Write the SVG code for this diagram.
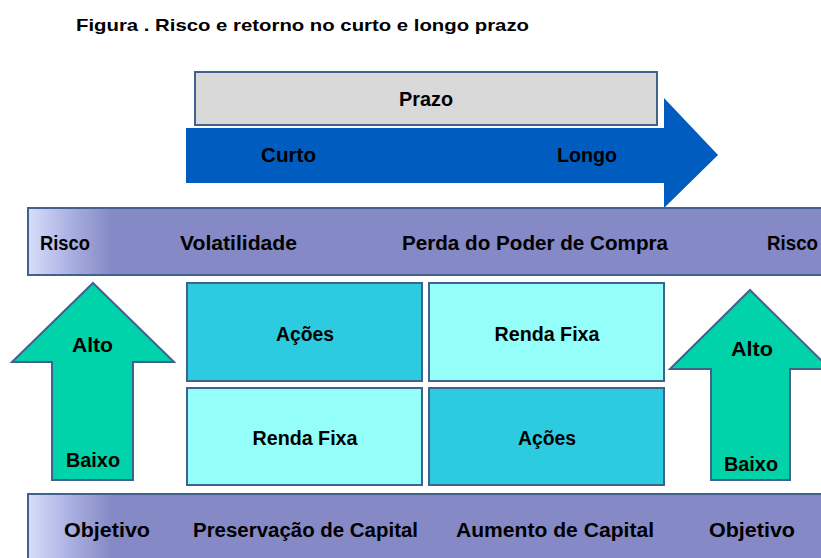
<svg xmlns="http://www.w3.org/2000/svg" width="821" height="558" viewBox="0 0 821 558">
<defs>
<linearGradient id="barGrad" x1="28" y1="0" x2="112" y2="0" gradientUnits="userSpaceOnUse">
<stop offset="0" stop-color="#d6defb"/>
<stop offset="0.55" stop-color="#a7acde"/>
<stop offset="1" stop-color="#8589c5"/>
</linearGradient>
<style>
text{font-family:"Liberation Sans",Arial,sans-serif;font-weight:bold;font-size:20px;fill:#000}
.title{font-size:17px}
.shape{stroke:#41618f;stroke-width:2}
.bar{fill:url(#barGrad)}
.dark{fill:#2ccbe0}
.light{fill:#93fff8}
.green{fill:#00d3a9}
</style>
</defs>
<rect width="821" height="558" fill="#ffffff"/>
<text class="title" x="76" y="31" textLength="453" lengthAdjust="spacingAndGlyphs">Figura . Risco e retorno no curto e longo prazo</text>

<g id="prazo">
<rect class="shape" x="195" y="72" width="462" height="53" fill="#d9d9d9"/>
<text x="426" y="106" text-anchor="middle" textLength="54" lengthAdjust="spacingAndGlyphs">Prazo</text>
</g>

<g id="seta-prazo">
<polygon points="186,128 664,128 664,98 718,155 664,208 664,183 186,183" fill="#015cbf"/>
<text x="261" y="162" textLength="55" lengthAdjust="spacingAndGlyphs">Curto</text>
<text x="557" y="162" textLength="60" lengthAdjust="spacingAndGlyphs">Longo</text>
</g>

<g id="barra-risco">
<rect class="shape bar" x="28" y="208" width="810" height="67"/>
<text x="40" y="250" textLength="50" lengthAdjust="spacingAndGlyphs">Risco</text>
<text x="180" y="250" textLength="117" lengthAdjust="spacingAndGlyphs">Volatilidade</text>
<text x="402" y="250" textLength="266" lengthAdjust="spacingAndGlyphs">Perda do Poder de Compra</text>
<text x="767" y="250" textLength="51" lengthAdjust="spacingAndGlyphs">Risco</text>
</g>

<g id="seta-esquerda">
<polygon class="shape green" points="93,283 174,362 133,362 133,480 52,480 52,362 12,362"/>
<text x="72" y="352" textLength="41" lengthAdjust="spacingAndGlyphs">Alto</text>
<text x="66" y="467" textLength="54" lengthAdjust="spacingAndGlyphs">Baixo</text>
</g>

<g id="seta-direita">
<polygon class="shape green" points="750,290 830,369 790,369 790,480 711,480 711,369 670,369"/>
<text x="731" y="356" textLength="42" lengthAdjust="spacingAndGlyphs">Alto</text>
<text x="724" y="471" textLength="54" lengthAdjust="spacingAndGlyphs">Baixo</text>
</g>

<g id="acoes-curto">
<rect class="shape dark" x="187" y="283" width="235" height="98"/>
<text x="305" y="341" text-anchor="middle" textLength="58" lengthAdjust="spacingAndGlyphs">Ações</text>
</g>
<g id="renda-fixa-longo">
<rect class="shape light" x="429" y="283" width="235" height="98"/>
<text x="547" y="341" text-anchor="middle" textLength="105" lengthAdjust="spacingAndGlyphs">Renda Fixa</text>
</g>
<g id="renda-fixa-curto">
<rect class="shape light" x="187" y="388" width="235" height="97"/>
<text x="305" y="445" text-anchor="middle" textLength="105" lengthAdjust="spacingAndGlyphs">Renda Fixa</text>
</g>
<g id="acoes-longo">
<rect class="shape dark" x="429" y="388" width="235" height="97"/>
<text x="547" y="445" text-anchor="middle" textLength="58" lengthAdjust="spacingAndGlyphs">Ações</text>
</g>

<g id="barra-objetivo">
<rect class="shape bar" x="28" y="494" width="810" height="80"/>
<text x="64" y="537" textLength="86" lengthAdjust="spacingAndGlyphs">Objetivo</text>
<text x="193" y="537" textLength="225" lengthAdjust="spacingAndGlyphs">Preservação de Capital</text>
<text x="456" y="537" textLength="198" lengthAdjust="spacingAndGlyphs">Aumento de Capital</text>
<text x="709" y="537" textLength="86" lengthAdjust="spacingAndGlyphs">Objetivo</text>
</g>

<g id="conectores"></g>
</svg>
